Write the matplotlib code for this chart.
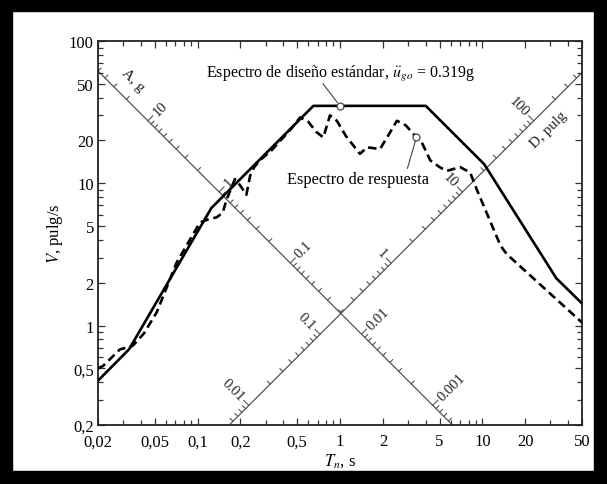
import numpy as np
import matplotlib
matplotlib.use("Agg")
import matplotlib.pyplot as plt
from matplotlib.patches import Rectangle
from matplotlib.ticker import FixedLocator, FixedFormatter, NullFormatter

plt.rcParams['font.family'] = ['Liberation Serif', 'DejaVu Serif']
plt.rcParams['mathtext.fontset'] = 'stix'

# ---------------- data ----------------
design_T = [0.02, 0.033, 0.125, 0.65, 4.0, 10.3, 33.0, 50.0]
design_V = [0.41, 0.68, 6.7, 35.0, 35.0, 13.6, 2.15, 1.43]

resp_T = [0.02, 0.0217, 0.0285, 0.035, 0.042, 0.0517, 0.0714, 0.104, 0.12, 0.136,
          0.15, 0.16, 0.183, 0.2, 0.22, 0.234, 0.25, 0.274, 0.33, 0.4, 0.46, 0.524,
          0.6, 0.68, 0.764, 0.85, 0.95, 1.1, 1.38, 1.55, 1.91, 2.2, 2.51, 2.9,
          3.44, 3.66, 4.3, 5.0, 5.6, 6.97, 8.2, 9.1, 13.4, 14.8, 50.0]
resp_V = [0.5, 0.52, 0.68, 0.72, 0.88, 1.24, 2.78, 5.3, 5.6, 5.76,
          6.2, 7.7, 10.7, 9.6, 8.3, 11.3, 13.0, 14.5, 17.0, 21.0, 24.5, 29.0,
          27.0, 23.0, 21.0, 30.0, 27.5, 21.5, 16.1, 17.9, 17.4, 22.0, 27.5, 25.5,
          21.0, 20.4, 14.5, 13.0, 12.2, 13.0, 11.9, 9.1, 3.64, 3.18, 1.05]

design_mark = (1.0, 35.0)
resp_mark = (3.44, 21.0)

x_ticks = [0.02, 0.05, 0.1, 0.2, 0.5, 1, 2, 5, 10, 20, 50]
x_labels = ["0,02", "0,05", "0,1", "0,2", "0,5", "1", "2", "5", "10", "20", "50"]
y_ticks = [0.2, 0.5, 1, 2, 5, 10, 20, 50, 100]
y_labels = ["0,2", "0,5", "1", "2", "5", "10", "20", "50", "100"]

g = 386.1            # pulg/s^2
D_line = 0.196       # pulg, descending line (A axis)
A_line = 0.0195      # g, ascending line (D axis)
A_labels = [10, 1, 0.1, 0.01, 0.001]
A_label_txt = ["10", "1", "0.1", "0.01", "0.001"]
D_labels = [0.01, 0.1, 1, 10, 100]
D_label_txt = ["0.01", "0.1", "1", "10", "100"]

# ---------------- figure ----------------
W, H = 607, 485
fig = plt.figure(figsize=(W / 100, H / 100), dpi=100)
L, R, T_, B = 98, 582, 42, 426
ax = fig.add_axes([L / W, 1 - B / H, (R - L) / W, (B - T_) / H])
ax.set_xscale('log')
ax.set_yscale('log')
xlim = (0.02, 50)
ylim = (0.2, 100)
ax.set_xlim(*xlim)
ax.set_ylim(*ylim)
ppx = (R - L) / np.log10(xlim[1] / xlim[0])
ppy = (B - T_) / np.log10(ylim[1] / ylim[0])


def shift(T, V, dx, dy):
    return T * 10 ** (dx / ppx), V * 10 ** (dy / ppy)


def inside(T, V):
    return xlim[0] <= T <= xlim[1] and ylim[0] <= V <= ylim[1]


gray = '#555555'
Tline = np.geomspace(0.005, 200, 400)
ax.plot(Tline, 2 * np.pi * D_line / Tline, color=gray, lw=0.9, zorder=1)
ax.plot(Tline, A_line * g * Tline / (2 * np.pi), color=gray, lw=0.9, zorder=1)

s2 = np.sqrt(0.5)
# A axis ticks (on descending line), upper-right side
uA = (s2, s2)
for k in range(-4, 2):
    for m in range(1, 10):
        a = m * 10.0 ** k
        w = np.sqrt(a * g / D_line)
        T0, V0 = 2 * np.pi / w, w * D_line
        if not inside(T0, V0):
            continue
        ln = 7 if m == 1 else 4
        T1, V1 = shift(T0, V0, ln * uA[0], ln * uA[1])
        ax.plot([T0, T1], [V0, V1], color=gray, lw=0.8, zorder=1)
for a, txt in zip(A_labels, A_label_txt):
    w = np.sqrt(a * g / D_line)
    T0, V0 = 2 * np.pi / w, w * D_line
    Tl, Vl = shift(T0, V0, 10 * uA[0], 10 * uA[1])
    ax.text(Tl, Vl, txt, rotation=45, rotation_mode='anchor', ha='left',
            va='center', fontsize=10.5, color='#222222')

# D axis ticks (on ascending line), upper-left side
uD = (-s2, s2)
for k in range(-3, 3):
    for m in range(1, 10):
        d = m * 10.0 ** k
        w = np.sqrt(A_line * g / d)
        T0, V0 = 2 * np.pi / w, A_line * g / w
        if not inside(T0, V0):
            continue
        ln = 7 if m == 1 else 4
        T1, V1 = shift(T0, V0, ln * uD[0], ln * uD[1])
        ax.plot([T0, T1], [V0, V1], color=gray, lw=0.8, zorder=1)
for d, txt in zip(D_labels, D_label_txt):
    w = np.sqrt(A_line * g / d)
    T0, V0 = 2 * np.pi / w, A_line * g / w
    Tl, Vl = shift(T0, V0, 10 * uD[0], 10 * uD[1])
    ax.text(Tl, Vl, txt, rotation=-45, rotation_mode='anchor', ha='right',
            va='center', fontsize=10.5, color='#222222')

# axis names on the diagonals
Ta = 0.0285
Tl, Vl = shift(Ta, 2 * np.pi * D_line / Ta, 18 * s2, 18 * s2)
ax.text(Tl, Vl, "A, g", rotation=-45, rotation_mode='anchor', ha='center',
        va='center', fontsize=11, color='#222222')
Td = 24.1
Tl, Vl = shift(Td, A_line * g * Td / (2 * np.pi), 16 * s2, -16 * s2)
ax.text(Tl, Vl, "D, pulg", rotation=45, rotation_mode='anchor', ha='center',
        va='center', fontsize=11, color='#222222')

# spectra
ax.plot(design_T, design_V, color='black', lw=1.9, zorder=3)
ax.plot(resp_T, resp_V, color='black', lw=1.9, ls=(0, (3.2, 1.8)), zorder=3)

ax.plot([design_mark[0]], [design_mark[1]], 'o', ms=5, mfc='white', mec='#444444',
        mew=0.9, zorder=4)
ax.plot([resp_mark[0]], [resp_mark[1]], 'o', ms=5, mfc='white', mec='#444444',
        mew=0.9, zorder=4)

ax.annotate('', xy=design_mark, xytext=(-17, 22), textcoords='offset pixels',
            arrowprops=dict(arrowstyle='-', color='#444444', lw=0.8,
                            shrinkA=0, shrinkB=3))
ax.annotate(r"Espectro de diseño estándar, $\ddot{u}_{go}$ = 0.319g",
            xy=design_mark, xytext=(0, 33), textcoords='offset pixels',
            ha='center', va='center', fontsize=11.5)
ax.annotate('', xy=resp_mark, xytext=(-9, -31), textcoords='offset pixels',
            arrowprops=dict(arrowstyle='-', color='#444444', lw=0.8,
                            shrinkA=0, shrinkB=3))
ax.annotate("Espectro de respuesta", xy=resp_mark, xytext=(-58, -42),
            textcoords='offset pixels', ha='center', va='center', fontsize=11.8)

# axes cosmetics
ax.xaxis.set_major_locator(FixedLocator(x_ticks))
ax.xaxis.set_major_formatter(FixedFormatter(x_labels))
ax.yaxis.set_major_locator(FixedLocator(y_ticks))
ax.yaxis.set_major_formatter(FixedFormatter(y_labels))
xm = [m * 10.0 ** k for k in range(-2, 2) for m in range(1, 10)]
xm = [v for v in xm if xlim[0] < v < xlim[1] and not any(abs(v - t) < 1e-9 for t in x_ticks)]
ym = [m * 10.0 ** k for k in range(-1, 2) for m in range(1, 10)]
ym = [v for v in ym if ylim[0] < v < ylim[1] and not any(abs(v - t) < 1e-9 for t in y_ticks)]
ax.xaxis.set_minor_locator(FixedLocator(xm))
ax.yaxis.set_minor_locator(FixedLocator(ym))
ax.xaxis.set_minor_formatter(NullFormatter())
ax.yaxis.set_minor_formatter(NullFormatter())
ax.tick_params(which='both', direction='in', top=True, right=True, width=0.9,
               labelsize=12, color='#333333')
ax.tick_params(which='major', length=5)
ax.tick_params(which='minor', length=3.5)
ax.tick_params(axis='x', which='major', pad=6)
ax.tick_params(axis='y', which='major', pad=3)
for s in ax.spines.values():
    s.set_linewidth(1.3)
    s.set_color('#222222')

ax.set_xlabel(r"$T_n$, s", fontsize=12, labelpad=1)
ax.set_ylabel(r"$V$, pulg/s", fontsize=12, labelpad=3)

# black frame around the picture
fig.patches.append(Rectangle((0, 0), 1, 1, transform=fig.transFigure, fill=False,
                             edgecolor='black', lw=19, zorder=10))

fig.savefig("out.png", dpi=100)
